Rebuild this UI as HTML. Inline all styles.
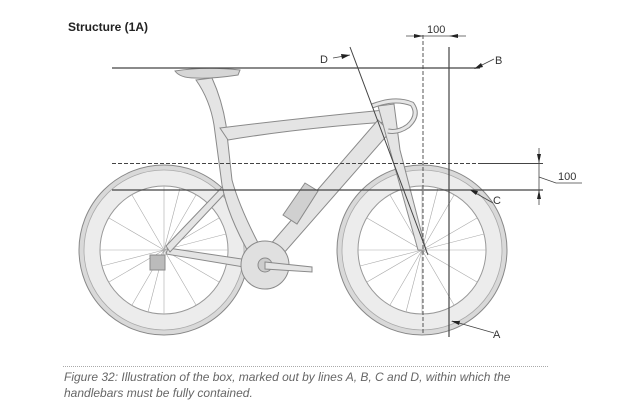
<!DOCTYPE html>
<html><head><meta charset="utf-8"><style>
html,body{margin:0;padding:0;background:#fff;width:620px;height:413px;overflow:hidden}
svg{display:block}
</style></head><body>
<svg width="620" height="413" viewBox="0 0 620 413" xmlns="http://www.w3.org/2000/svg" font-family="Liberation Sans, sans-serif">
<defs>
<radialGradient id="tg" cx="50%" cy="50%" r="50%">
<stop offset="74%" stop-color="#fff"/><stop offset="80%" stop-color="#d8d8d8"/><stop offset="90%" stop-color="#eeeeee"/><stop offset="100%" stop-color="#bdbdbd"/>
</radialGradient>
</defs>
<text x="68" y="31" font-size="12" font-weight="bold" fill="#222">Structure (1A)</text>

<!-- wheels -->
<g>
<circle cx="164" cy="250" r="85" fill="#d9d9d9" stroke="#888" stroke-width="1"/>
<circle cx="164" cy="250" r="80" fill="#ececec" stroke="#aaa" stroke-width="0.8"/>
<circle cx="164" cy="250" r="64" fill="#fff" stroke="#999" stroke-width="1"/>
<circle cx="422" cy="250" r="85" fill="#d9d9d9" stroke="#888" stroke-width="1"/>
<circle cx="422" cy="250" r="80" fill="#ececec" stroke="#aaa" stroke-width="0.8"/>
<circle cx="422" cy="250" r="64" fill="#fff" stroke="#999" stroke-width="1"/>
<g stroke="#aaa" stroke-width="0.6">
<path d="M164 250 L164 186 M164 250 L196 195 M164 250 L219 218 M164 250 L228 250 M164 250 L219 282 M164 250 L196 305 M164 250 L164 314 M164 250 L132 305 M164 250 L109 282 M164 250 L100 250 M164 250 L109 218 M164 250 L132 195 M164 250 L180 188 M164 250 L148 312 M164 250 L226 234 M164 250 L102 266"/>
<path d="M422 250 L422 186 M422 250 L454 195 M422 250 L477 218 M422 250 L486 250 M422 250 L477 282 M422 250 L454 305 M422 250 L422 314 M422 250 L390 305 M422 250 L367 282 M422 250 L358 250 M422 250 L367 218 M422 250 L390 195 M422 250 L438 188 M422 250 L406 312 M422 250 L484 234 M422 250 L360 266"/>
</g>
</g>

<!-- frame -->
<g fill="#e4e4e4" stroke="#8a8a8a" stroke-width="1">
<!-- chainstay -->
<path d="M168 248 L262 262 L262 270 L166 254 Z"/>
<!-- seatstay -->
<path d="M166 246 L226 183 L231 187 L170 252 Z"/>
<!-- seat tube / post -->
<path d="M196 80 L212 78 Q222 100 226 125 L232 180 Q240 210 266 258 L254 262 Q228 218 222 185 L214 125 Q210 100 196 80 Z"/>
<!-- top tube -->
<path d="M220 128 Q300 118 384 110 L388 122 Q300 128 228 140 Z"/>
<!-- down tube -->
<path d="M378 120 L390 132 L276 262 L262 254 Z"/>
<!-- head tube / fork -->
<path d="M378 106 L394 104 L400 150 L426 250 L418 250 L390 150 Z"/>
<!-- bottle -->
<path d="M283 215 L305 183 L318 191 L297 224 Z" fill="#d0d0d0"/>
<!-- saddle -->
<path d="M175 71 Q205 66 240 70 L238 75 Q212 79 195 78 Q180 78 175 71 Z" fill="#d6d6d6"/>
<!-- handlebar -->
<path d="M372 106 Q395 97 412 104 Q420 115 408 126 Q398 133 388 131" fill="none" stroke="#8a8a8a" stroke-width="5"/>
<path d="M372 106 Q395 97 412 104 Q420 115 408 126 Q398 133 388 131" fill="none" stroke="#e6e6e6" stroke-width="3"/>
<!-- crank -->
<circle cx="265" cy="265" r="24" fill="#e0e0e0"/>
<circle cx="265" cy="265" r="7" fill="#ccc"/>
<path d="M265 262 L312 267 L312 272 L265 269 Z"/>
<!-- derailleur -->
<path d="M150 255 L165 255 L165 270 L150 270 Z" fill="#bbb"/>
</g>

<!-- dimension lines -->
<g stroke="#444" fill="none">
<line x1="112" y1="68" x2="480" y2="68" stroke-width="1.3"/>
<line x1="112" y1="163.5" x2="482" y2="163.5" stroke-width="0.9" stroke-dasharray="4,2"/>
<line x1="482" y1="163.5" x2="543" y2="163.5" stroke-width="0.9"/>
<line x1="112" y1="190" x2="543" y2="190" stroke-width="1.2"/>
<line x1="423" y1="35" x2="423" y2="335" stroke-width="0.9" stroke-dasharray="4,2"/>
<line x1="449" y1="47" x2="449" y2="337" stroke-width="1.2"/>
<line x1="350" y1="47" x2="428" y2="255" stroke-width="1"/>
<line x1="406" y1="36" x2="466" y2="36" stroke-width="0.8"/>
<line x1="539" y1="148" x2="539" y2="205" stroke-width="0.8"/>
<path d="M539 177 L556 183 L582 183" stroke-width="0.8"/>
<path d="M333 58 L350 55" stroke-width="0.8"/>
<path d="M494 59 L478 67" stroke-width="0.8"/>
<path d="M493 203 L472 191" stroke-width="0.8"/>
<path d="M494 333 L452 321" stroke-width="0.8"/>
</g>
<g fill="#222">
<path d="M423 36 L414 34 L414 38 Z"/><path d="M449 36 L458 34 L458 38 Z"/>
<path d="M539 163 L537 154 L541 154 Z"/><path d="M539 190 L537 199 L541 199 Z"/>
<path d="M350 55 L341 54 L342 59 Z"/>
<path d="M474 69 L481 63 L483 67 Z"/>
<path d="M470 190 L478 191 L476 195 Z"/>
<path d="M451 321 L460 321 L459 325 Z"/>
</g>
<g font-size="11" fill="#333">
<text x="427" y="33">100</text>
<text x="558" y="180">100</text>
<text x="320" y="63">D</text>
<text x="495" y="64">B</text>
<text x="493" y="204">C</text>
<text x="493" y="338">A</text>
</g>

<line x1="63" y1="366.5" x2="548" y2="366.5" stroke="#aaa" stroke-width="1" stroke-dasharray="1,1"/>
<text x="64" y="381" font-size="12" font-style="italic" fill="#666">Figure 32: Illustration of the box, marked out by lines A, B, C and D, within which the</text>
<text x="64" y="397" font-size="12" font-style="italic" fill="#666">handlebars must be fully contained.</text>
</svg>
</body></html>
